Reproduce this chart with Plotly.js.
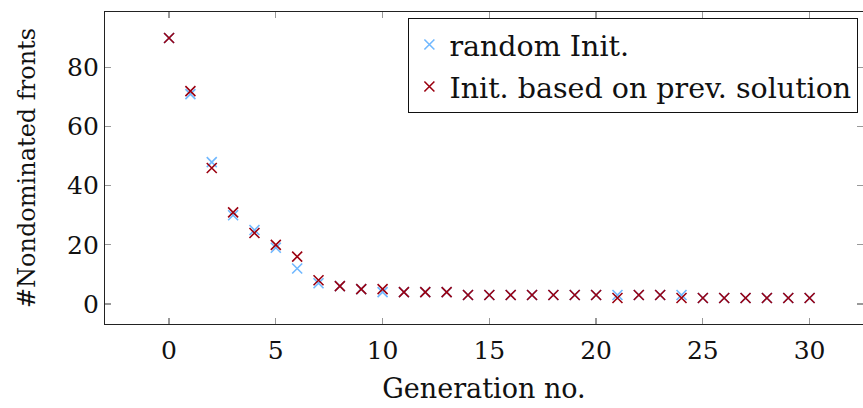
<!DOCTYPE html>
<html>
<head>
<meta charset="utf-8">
<script src="https://cdn.plot.ly/plotly-3.0.1.min.js"></script>
<style>html,body{margin:0;padding:0;background:#fff;}#chart{width:863px;height:408px;}</style>
</head>
<body>
<div id="chart"></div>
<script>
const generations = [0,1,2,3,4,5,6,7,8,9,10,11,12,13,14,15,16,17,18,19,20,21,22,23,24,25,26,27,28,29,30];
const randomInit = [90,71,48,30,25,19,12,7,6,5,4,4,4,4,3,3,3,3,3,3,3,3,3,3,3,2,2,2,2,2,2];
const prevInit = [90,72,46,31,24,20,16,8,6,5,5,4,4,4,3,3,3,3,3,3,3,2,3,3,2,2,2,2,2,2,2];
const seriesNames = ["random Init.", "Init. based on prev. solution"];
const xTicks = [0,5,10,15,20,25,30];
const yTicks = [0,20,40,60,80];

const FONT = "DejaVu Serif, serif";

const traces = [
  {x: generations, y: randomInit, name: seriesNames[0], mode: "markers", type: "scatter", legendgroup: "a",
   marker: {symbol: "x-thin", size: 10, line: {color: "#70b8ff", width: 1.6}, color: "#70b8ff"}},
  {x: generations, y: prevInit, name: seriesNames[1], mode: "markers", type: "scatter", legendgroup: "b",
   marker: {symbol: "x-thin", size: 10, line: {color: "#9b0010", width: 1.6}, color: "#9b0010"}}
];

const axisCommon = {
  showgrid: false, zeroline: false, showline: true, linecolor: "#222", linewidth: 1.2,
  mirror: "ticks", ticks: "inside", ticklen: 6, tickcolor: "#999", tickwidth: 1.2,
  tickfont: {family: FONT, size: 25, color: "#111"}
};

const layout = {
  width: 863, height: 408,
  margin: {l: 105, r: 0, t: 12, b: 84},
  paper_bgcolor: "#fff", plot_bgcolor: "#fff",
  showlegend: true,
  xaxis: Object.assign({}, axisCommon, {range: [-3, 32.5], tickvals: xTicks, ticktext: xTicks.map(String),
    ticklabelstandoff: 4,
    title: {text: "Generation no.", font: {family: FONT, size: 27, color: "#111"}, standoff: 14}}),
  yaxis: Object.assign({}, axisCommon, {range: [-6.8, 98.8], tickvals: yTicks, ticktext: yTicks.map(String),
    title: {text: "#Nondominated fronts", font: {family: FONT, size: 24, color: "#111"}, standoff: 24}}),
  legend: {x: 0.40, y: 0.98, xanchor: "left", yanchor: "top", bgcolor: "#fff",
    bordercolor: "#111", borderwidth: 1.2, font: {family: FONT, size: 28.5, color: "#111"},
    itemwidth: 30, traceorder: "grouped", tracegroupgap: 2}
};

Plotly.newPlot("chart", traces, layout, {displayModeBar: false, staticPlot: true});
</script>
</body>
</html>
